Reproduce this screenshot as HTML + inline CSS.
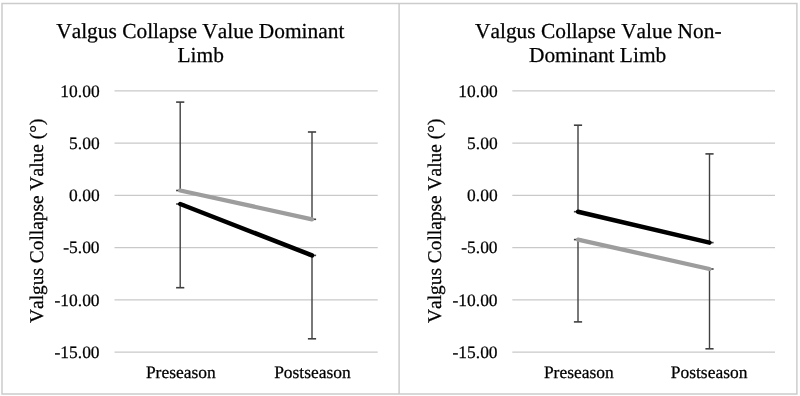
<!DOCTYPE html>
<html><head><meta charset="utf-8"><style>
html,body{margin:0;padding:0;background:#fff;}
body{width:800px;height:396px;overflow:hidden;position:relative;}
svg{position:absolute;left:0;top:0;}
text{font-family:"Liberation Serif",serif;fill:#000;text-rendering:geometricPrecision;font-kerning:none;stroke:#000;stroke-width:0.25px;}
svg{will-change:transform;}
.tt{font-size:21.4px;}
.tk{font-size:17.45px;}
.at{font-size:19.4px;}
</style></head><body>
<svg width="800" height="396" viewBox="0 0 800 396">
<rect x="0" y="0" width="800" height="396" fill="#fff"/>
<g stroke="#cccccc" stroke-width="1.5" fill="none">
<path d="M2,3.4 H796.9 V394 H2 Z"/>
<line x1="399.1" y1="3.4" x2="399.1" y2="394"/>
</g>
<line x1="114.5" y1="90.97" x2="377.7" y2="90.97" stroke="#c9c9c9" stroke-width="1.3"/>
<line x1="114.5" y1="143.19" x2="377.7" y2="143.19" stroke="#c9c9c9" stroke-width="1.3"/>
<line x1="114.5" y1="195.42" x2="377.7" y2="195.42" stroke="#c9c9c9" stroke-width="1.3"/>
<line x1="114.5" y1="247.64" x2="377.7" y2="247.64" stroke="#c9c9c9" stroke-width="1.3"/>
<line x1="114.5" y1="299.87" x2="377.7" y2="299.87" stroke="#c9c9c9" stroke-width="1.3"/>
<line x1="114.5" y1="352.10" x2="377.7" y2="352.10" stroke="#c9c9c9" stroke-width="1.3"/>
<text x="200.3" y="37.7" text-anchor="middle" class="tt">Valgus Collapse Value Dominant</text>
<text x="200.7" y="62.2" text-anchor="middle" class="tt">Limb</text>
<text x="99.6" y="96.7" text-anchor="end" class="tk">10.00</text>
<text x="99.6" y="148.9" text-anchor="end" class="tk">5.00</text>
<text x="99.6" y="201.1" text-anchor="end" class="tk">0.00</text>
<text x="99.6" y="253.3" text-anchor="end" class="tk">-5.00</text>
<text x="99.6" y="305.6" text-anchor="end" class="tk">-10.00</text>
<text x="99.6" y="357.8" text-anchor="end" class="tk">-15.00</text>
<text x="180.8" y="378.0" text-anchor="middle" class="tk">Preseason</text>
<text x="312.4" y="378.0" text-anchor="middle" class="tk">Postseason</text>
<text transform="translate(43.3,220.8) rotate(-90)" x="0" y="0" text-anchor="middle" class="at">Valgus Collapse Value (°)</text>
<line x1="180.2" y1="190.5" x2="180.2" y2="102.1" stroke="#404040" stroke-width="1.4"/>
<line x1="176.1" y1="102.1" x2="184.29999999999998" y2="102.1" stroke="#404040" stroke-width="1.6"/>
<line x1="176.1" y1="190.5" x2="184.29999999999998" y2="190.5" stroke="#404040" stroke-width="1.6"/>
<line x1="312" y1="219.3" x2="312" y2="132" stroke="#404040" stroke-width="1.4"/>
<line x1="307.9" y1="132" x2="316.1" y2="132" stroke="#404040" stroke-width="1.6"/>
<line x1="307.9" y1="219.3" x2="316.1" y2="219.3" stroke="#404040" stroke-width="1.6"/>
<line x1="180.2" y1="204" x2="180.2" y2="287.7" stroke="#404040" stroke-width="1.4"/>
<line x1="176.1" y1="287.7" x2="184.29999999999998" y2="287.7" stroke="#404040" stroke-width="1.6"/>
<line x1="176.1" y1="204" x2="184.29999999999998" y2="204" stroke="#404040" stroke-width="1.6"/>
<line x1="312" y1="255.4" x2="312" y2="338.8" stroke="#404040" stroke-width="1.4"/>
<line x1="307.9" y1="338.8" x2="316.1" y2="338.8" stroke="#404040" stroke-width="1.6"/>
<line x1="307.9" y1="255.4" x2="316.1" y2="255.4" stroke="#404040" stroke-width="1.6"/>
<line x1="180.2" y1="190.5" x2="312" y2="219.3" stroke="#9d9d9d" stroke-width="4.3" stroke-linecap="round"/>
<line x1="180.2" y1="204" x2="312" y2="255.4" stroke="#000" stroke-width="4.5" stroke-linecap="round"/>
<line x1="512.3" y1="90.97" x2="775" y2="90.97" stroke="#c9c9c9" stroke-width="1.3"/>
<line x1="512.3" y1="143.19" x2="775" y2="143.19" stroke="#c9c9c9" stroke-width="1.3"/>
<line x1="512.3" y1="195.42" x2="775" y2="195.42" stroke="#c9c9c9" stroke-width="1.3"/>
<line x1="512.3" y1="247.64" x2="775" y2="247.64" stroke="#c9c9c9" stroke-width="1.3"/>
<line x1="512.3" y1="299.87" x2="775" y2="299.87" stroke="#c9c9c9" stroke-width="1.3"/>
<line x1="512.3" y1="352.10" x2="775" y2="352.10" stroke="#c9c9c9" stroke-width="1.3"/>
<text x="598.3" y="37.7" text-anchor="middle" class="tt">Valgus Collapse Value Non-</text>
<text x="597.6" y="62.2" text-anchor="middle" class="tt">Dominant Limb</text>
<text x="497.6" y="96.7" text-anchor="end" class="tk">10.00</text>
<text x="497.6" y="148.9" text-anchor="end" class="tk">5.00</text>
<text x="497.6" y="201.1" text-anchor="end" class="tk">0.00</text>
<text x="497.6" y="253.3" text-anchor="end" class="tk">-5.00</text>
<text x="497.6" y="305.6" text-anchor="end" class="tk">-10.00</text>
<text x="497.6" y="357.8" text-anchor="end" class="tk">-15.00</text>
<text x="578.8" y="378.0" text-anchor="middle" class="tk">Preseason</text>
<text x="709.1" y="378.0" text-anchor="middle" class="tk">Postseason</text>
<text transform="translate(441.3,220.8) rotate(-90)" x="0" y="0" text-anchor="middle" class="at">Valgus Collapse Value (°)</text>
<line x1="578" y1="239.6" x2="578" y2="321.9" stroke="#404040" stroke-width="1.4"/>
<line x1="573.9" y1="321.9" x2="582.1" y2="321.9" stroke="#404040" stroke-width="1.6"/>
<line x1="573.9" y1="239.6" x2="582.1" y2="239.6" stroke="#404040" stroke-width="1.6"/>
<line x1="709.5" y1="269" x2="709.5" y2="348.8" stroke="#404040" stroke-width="1.4"/>
<line x1="705.4" y1="348.8" x2="713.6" y2="348.8" stroke="#404040" stroke-width="1.6"/>
<line x1="705.4" y1="269" x2="713.6" y2="269" stroke="#404040" stroke-width="1.6"/>
<line x1="578" y1="211.7" x2="578" y2="125.2" stroke="#404040" stroke-width="1.4"/>
<line x1="573.9" y1="125.2" x2="582.1" y2="125.2" stroke="#404040" stroke-width="1.6"/>
<line x1="573.9" y1="211.7" x2="582.1" y2="211.7" stroke="#404040" stroke-width="1.6"/>
<line x1="709.5" y1="242.6" x2="709.5" y2="153.9" stroke="#404040" stroke-width="1.4"/>
<line x1="705.4" y1="153.9" x2="713.6" y2="153.9" stroke="#404040" stroke-width="1.6"/>
<line x1="705.4" y1="242.6" x2="713.6" y2="242.6" stroke="#404040" stroke-width="1.6"/>
<line x1="578" y1="239.6" x2="709.5" y2="269" stroke="#9d9d9d" stroke-width="4.3" stroke-linecap="round"/>
<line x1="578" y1="211.7" x2="709.5" y2="242.6" stroke="#000" stroke-width="4.5" stroke-linecap="round"/>
</svg>
</body></html>
